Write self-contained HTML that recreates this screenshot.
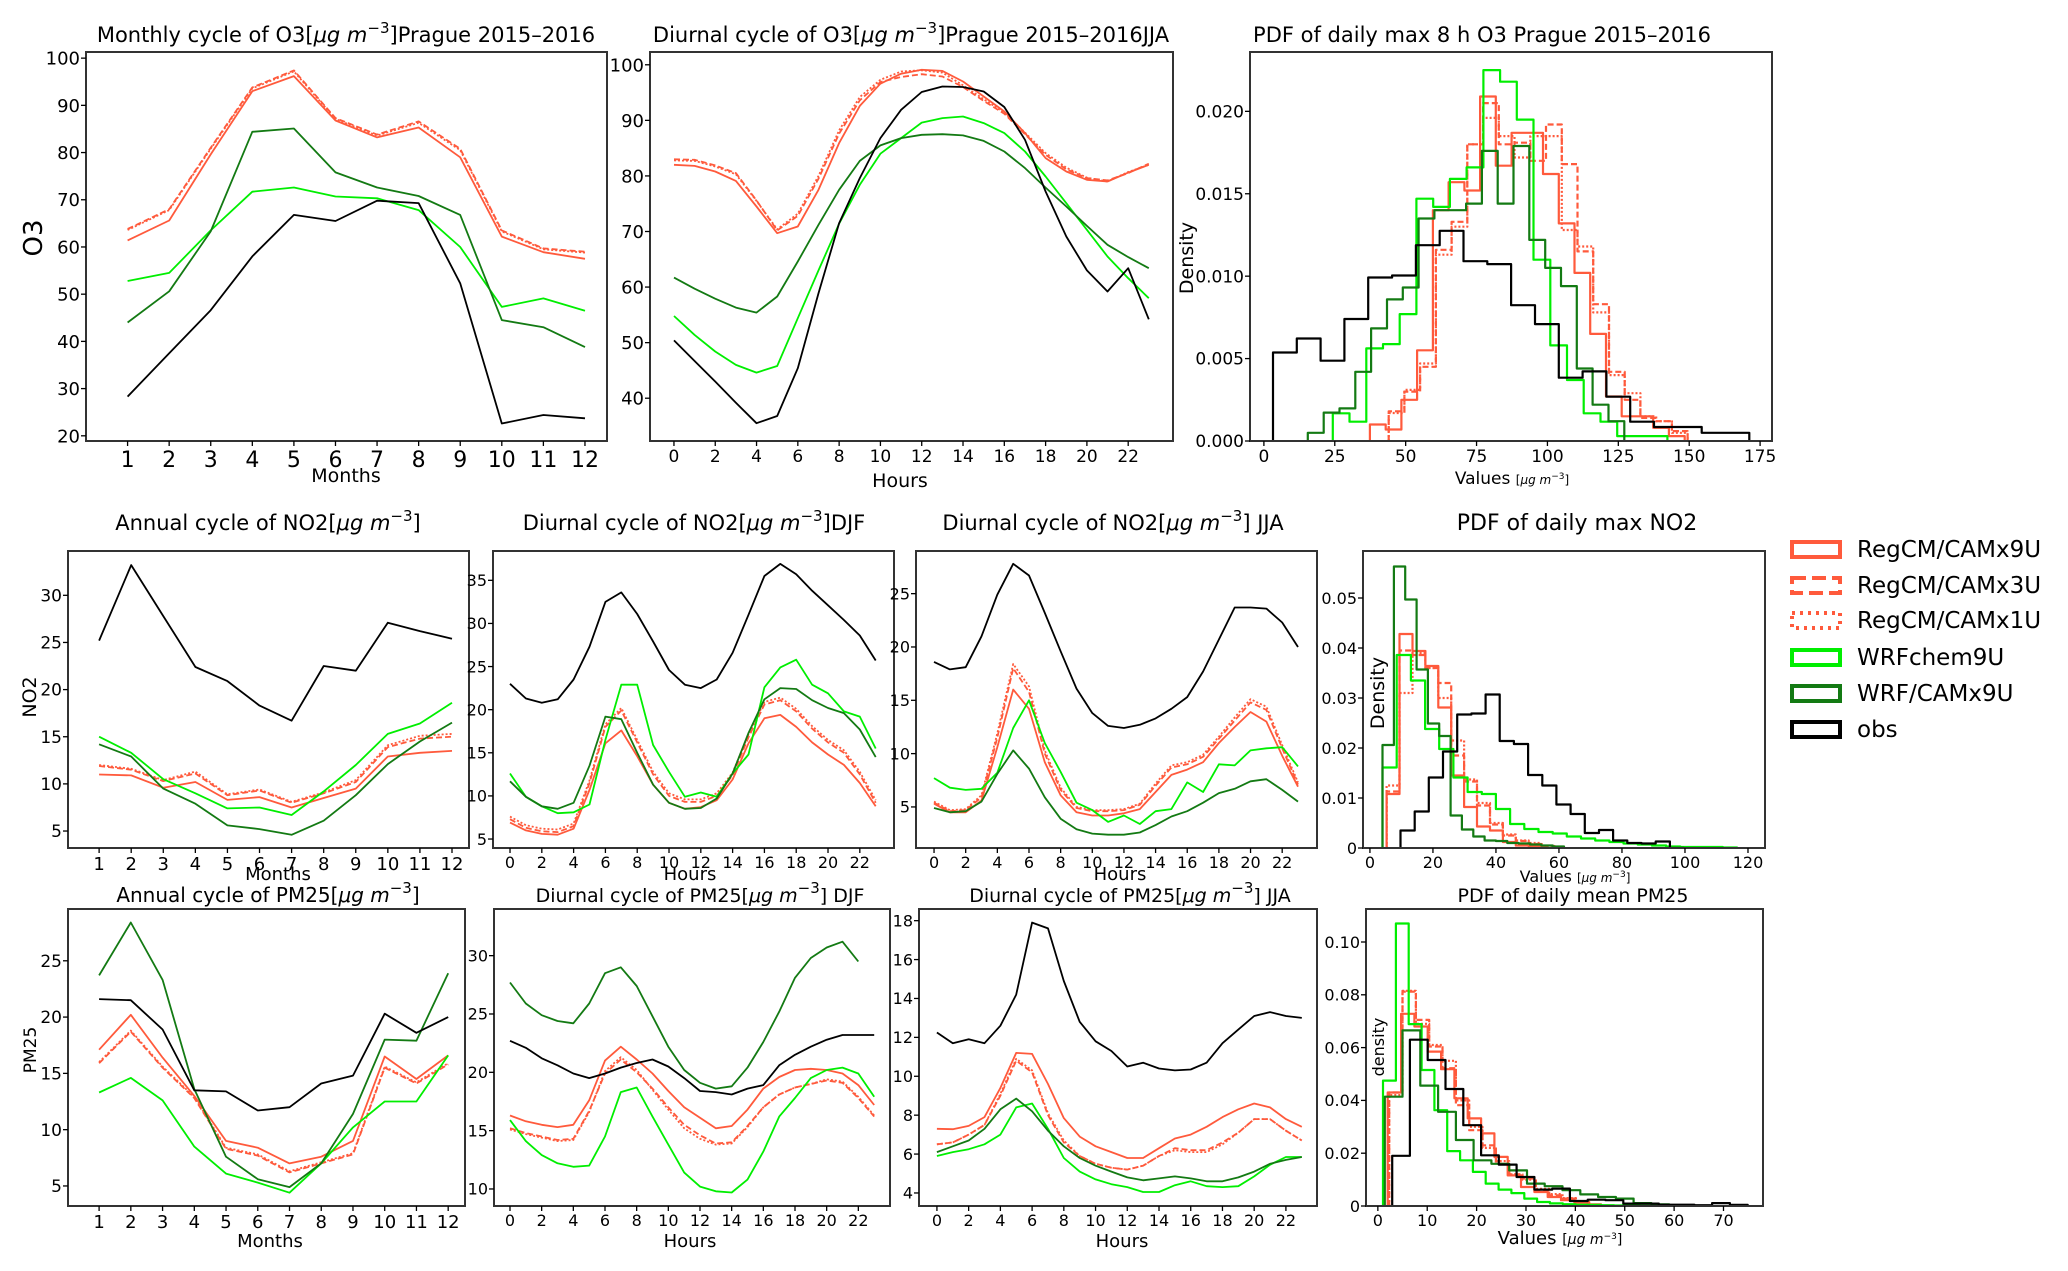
<!DOCTYPE html>
<html><head><meta charset="utf-8"><style>
html,body{margin:0;padding:0;background:#fff;}
svg{display:block;}
text{font-family:"DejaVu Sans","Liberation Sans",sans-serif;fill:#000;}
</style></head><body>
<svg id="fig" xmlns="http://www.w3.org/2000/svg" width="2068" height="1271" viewBox="0 0 2068 1271">
<rect x="0" y="0" width="2068" height="1271" fill="#fff"/>
<g id="legend">
 <g><rect x="1792" y="542" width="48" height="15" fill="none" stroke="#ff5a3c" stroke-width="4"/><text x="1857" y="557" font-size="23">RegCM/CAMx9U</text></g>
 <g><rect x="1792" y="578" width="48" height="15" fill="none" stroke="#ff5a3c" stroke-width="4" stroke-dasharray="14,6"/><text x="1857" y="593" font-size="23">RegCM/CAMx3U</text></g>
 <g><rect x="1792" y="613" width="48" height="15" fill="none" stroke="#ff5a3c" stroke-width="4" stroke-dasharray="3,5"/><text x="1857" y="628" font-size="23">RegCM/CAMx1U</text></g>
 <g><rect x="1792" y="650" width="48" height="15" fill="none" stroke="#00ee00" stroke-width="4"/><text x="1857" y="665" font-size="23">WRFchem9U</text></g>
 <g><rect x="1792" y="686" width="48" height="15" fill="none" stroke="#137a13" stroke-width="4"/><text x="1857" y="701" font-size="23">WRF/CAMx9U</text></g>
 <g><rect x="1792" y="722" width="48" height="15" fill="none" stroke="#000" stroke-width="4"/><text x="1857" y="737" font-size="23">obs</text></g>
</g>
</svg>
<script>
// ===== Data =====
const months = [1,2,3,4,5,6,7,8,9,10,11,12];
const hours = [0,1,2,3,4,5,6,7,8,9,10,11,12,13,14,15,16,17,18,19,20,21,22,23];

// O3 monthly
const o3m_obs = [28.3,37.5,46.6,58.0,66.8,65.5,69.8,69.3,52.3,22.6,24.4,23.7];
const o3m_wrfchem = [52.8,54.5,63.5,71.7,72.6,70.7,70.3,67.8,60.0,47.3,49.1,46.5];
const o3m_wrfcamx = [44.0,50.6,63.3,84.4,85.1,75.8,72.6,70.8,66.8,44.5,43.0,38.8];
const o3m_reg9 = [61.4,65.6,79.6,93.0,96.2,86.8,83.2,85.3,79.0,62.2,58.9,57.5];
const o3m_reg3 = [63.8,68.0,81.0,93.8,97.4,87.3,83.8,86.6,80.8,63.5,59.7,59.0];
const o3m_reg1 = [63.6,67.8,80.8,93.6,97.2,87.1,83.6,86.3,80.5,63.3,59.5,58.8];

// O3 diurnal JJA
const o3d_obs = [50.4,46.7,43.0,39.2,35.5,36.8,45.4,58.9,71.5,79.6,86.8,91.9,95.1,96.1,96.0,95.2,92.4,86.5,77.2,69.1,63.0,59.2,63.4,54.2];
const o3d_wrfchem = [54.8,51.4,48.4,46.0,44.6,45.8,54.4,63.0,71.4,78.4,84.0,86.8,89.6,90.4,90.7,89.5,87.7,84.4,79.9,75.1,70.3,65.5,61.6,58.0];
const o3d_wrfcamx = [61.7,59.7,57.9,56.3,55.4,58.3,64.6,71.2,77.5,82.7,85.5,86.8,87.4,87.5,87.3,86.3,84.4,81.4,77.9,74.5,71.0,67.6,65.4,63.4];
const o3d_reg9 = [82.0,81.8,80.8,79.1,74.5,69.7,70.9,77.5,85.9,92.6,96.6,98.4,99.1,98.9,97.0,94.3,91.6,87.7,83.2,80.8,79.3,79.0,80.6,82.0];
const o3d_reg3 = [83.0,82.9,81.9,80.5,75.6,70.2,72.8,79.5,87.6,93.6,96.9,97.8,98.3,97.9,96.0,93.5,91.2,87.5,83.8,81.2,79.6,79.2,80.5,82.2];
const o3d_reg1 = [82.8,82.7,81.7,80.3,75.5,70.4,73.2,80.0,88.2,94.2,97.3,98.8,99.0,98.6,96.3,93.8,91.4,87.8,84.1,81.5,79.7,79.0,80.7,82.0];

// O3 PDF (bin start, bin width, densities)
const pdfo3_obs_start = 3.2, pdfo3_obs_width = 8.4;
const pdfo3_obs = [0.00537,0.00622,0.00487,0.0074,0.00992,0.01004,0.01188,0.01275,0.01091,0.01073,0.00824,0.00709,0.00384,0.00422,0.00269,0.00117,0.00085,0.00085,0.0005,0.0005];
const pdfo3_wrfcamx_start = 15.5, pdfo3_wrfcamx_width = 5.58;
const pdfo3_wrfcamx = [0.0005,0.00172,0.00198,0.0042,0.00683,0.00859,0.00931,0.0135,0.0140,0.0140,0.0144,0.0176,0.0144,0.0179,0.0122,0.0105,0.0094,0.0044,0.0022,0.0012];
const pdfo3_wrfchem_start = 24.3, pdfo3_wrfchem_width = 5.9;
const pdfo3_wrfchem = [0.00168,0.00117,0.00562,0.00588,0.0077,0.0147,0.0142,0.0159,0.0166,0.0225,0.0218,0.0195,0.0110,0.0058,0.0037,0.00168,0.00117,0.0003,0.0003,0.0003];
const pdfo3_reg9_start = 37.4, pdfo3_reg9_width = 5.55;
const pdfo3_reg9 = [0.001,0.0007,0.0025,0.0055,0.0140,0.0157,0.0152,0.0209,0.0167,0.0187,0.0187,0.0162,0.0132,0.0102,0.0065,0.0027,0.0015,0.0015,0.0008,0.0003];
const pdfo3_reg3_start = 44.0, pdfo3_reg3_width = 5.55;
const pdfo3_reg3 = [0.0018,0.003,0.0045,0.0116,0.0133,0.018,0.0205,0.018,0.0181,0.017,0.0192,0.0168,0.0115,0.0083,0.0042,0.0025,0.0014,0.0012,0.0006];
const pdfo3_reg1_start = 44.0, pdfo3_reg1_width = 5.55;
const pdfo3_reg1 = [0.0017,0.0031,0.0047,0.0113,0.013,0.018,0.0196,0.0185,0.0172,0.0185,0.0185,0.0128,0.0118,0.0078,0.0040,0.0029,0.0015,0.0012,0.0005];

// NO2 annual
const no2m_obs = [25.2,33.2,27.8,22.4,20.9,18.3,16.7,22.5,22.0,27.1,26.2,25.4];
const no2m_wrfchem = [15.0,13.3,10.5,9.0,7.4,7.5,6.7,9.2,12.0,15.3,16.4,18.6];
const no2m_wrfcamx = [14.2,12.9,9.5,7.9,5.6,5.2,4.6,6.1,8.8,12.1,14.5,16.5];
const no2m_reg9 = [11.0,10.9,9.6,10.2,8.3,8.6,7.5,8.5,9.5,12.9,13.3,13.5];
const no2m_reg3 = [11.9,11.5,10.3,11.1,8.8,9.3,8.0,9.0,10.2,13.9,14.8,15.0];
const no2m_reg1 = [12.0,11.6,10.4,11.3,8.9,9.4,8.1,9.1,10.4,14.1,15.1,15.3];

// NO2 diurnal DJF
const no2w_obs = [23.0,21.3,20.8,21.2,23.5,27.3,32.5,33.6,31.1,27.9,24.6,22.9,22.5,23.5,26.6,31.0,35.5,36.9,35.7,33.8,32.1,30.4,28.6,25.7];
const no2w_wrfchem = [12.6,9.9,8.8,8.0,8.1,9.0,16.5,22.9,22.9,15.9,12.8,9.9,10.4,9.9,12.6,14.8,22.6,24.9,25.8,22.9,21.9,19.8,19.2,15.5];
const no2w_wrfcamx = [11.7,9.9,8.8,8.5,9.2,13.5,19.2,18.9,15.0,11.3,9.2,8.5,8.6,9.7,12.6,17.3,21.2,22.5,22.4,21.1,20.2,19.6,17.7,14.5];
const no2w_reg9 = [6.9,6.0,5.6,5.5,6.2,10.7,16.1,17.6,14.6,11.3,9.2,8.5,8.7,9.5,11.9,16.1,19.0,19.4,18.0,16.2,14.8,13.6,11.5,8.8];
const no2w_reg3 = [7.3,6.3,5.9,5.8,6.5,11.5,18.0,19.9,16.2,12.5,10.0,9.3,9.3,10.0,12.4,16.8,20.6,21.1,19.8,17.8,16.2,15.0,12.5,9.2];
const no2w_reg1 = [7.6,6.6,6.2,6.1,6.8,11.8,18.3,20.2,16.5,12.8,10.3,9.6,9.6,10.3,12.7,17.1,20.9,21.4,20.1,18.1,16.5,15.3,12.8,9.5];

// NO2 diurnal JJA
const no2s_obs = [18.6,17.9,18.1,21.0,24.9,27.8,26.7,23.2,19.6,16.1,13.8,12.6,12.4,12.7,13.3,14.2,15.3,17.7,20.7,23.7,23.7,23.6,22.3,20.0];
const no2s_wrfchem = [7.7,6.8,6.6,6.7,8.2,12.4,15.0,11.0,8.3,5.4,4.7,3.6,4.2,3.4,4.6,4.8,7.3,6.4,9.0,8.9,10.3,10.5,10.6,8.8];
const no2s_wrfcamx = [4.9,4.5,4.6,5.5,8.1,10.3,8.6,5.9,3.9,2.9,2.5,2.4,2.4,2.6,3.3,4.1,4.6,5.4,6.3,6.7,7.4,7.6,6.6,5.5];
const no2s_reg9 = [5.3,4.5,4.5,5.6,10.6,16.0,14.2,9.2,6.1,4.5,4.2,4.2,4.4,4.8,6.4,8.0,8.5,9.2,11.0,12.5,13.9,13.0,9.8,6.9];
const no2s_reg3 = [5.4,4.6,4.7,5.9,11.5,18.0,15.8,10.0,6.6,4.9,4.6,4.6,4.7,5.2,7.0,8.7,9.0,9.7,11.4,13.1,14.8,14.1,10.5,7.1];
const no2s_reg1 = [5.5,4.7,4.8,6.1,11.9,18.4,16.3,10.3,6.8,5.0,4.7,4.7,4.8,5.3,7.2,8.9,9.2,9.9,11.6,13.4,15.1,14.4,10.8,7.3];

// NO2 PDF
const pdfno2_obs_start = 9.7, pdfno2_obs_width = 4.5;
const pdfno2_obs = [0.0035,0.0073,0.0141,0.0193,0.0267,0.0269,0.0307,0.0214,0.0208,0.0146,0.0125,0.0087,0.0068,0.003,0.0036,0.0015,0.001,0.0009,0.0013,0.0];
const pdfno2_wrfcamx_start = 4.0, pdfno2_wrfcamx_width = 3.6;
const pdfno2_wrfcamx = [0.0206,0.0563,0.0497,0.0357,0.0249,0.0224,0.0065,0.0037,0.0023,0.0015,0.0014,0.001,0.0009,0.0007,0.0005,0.0003];
const pdfno2_wrfchem_start = 4.0, pdfno2_wrfchem_width = 4.5;
const pdfno2_wrfchem = [0.0161,0.0386,0.0335,0.0238,0.0198,0.0141,0.0112,0.0108,0.0078,0.0048,0.0038,0.0032,0.0029,0.0023,0.0019,0.0015,0.0012,0.0009,0.0007,0.0005,0.0003,0.0002,0.0002,0.0002,0.0001];
const pdfno2_reg9_start = 5.3, pdfno2_reg9_width = 4.1;
const pdfno2_reg9 = [0.0108,0.0428,0.0394,0.0364,0.0281,0.0145,0.0082,0.0043,0.0035,0.0012,0.0005,0.0003];
const pdfno2_reg3_start = 5.3, pdfno2_reg3_width = 4.1;
const pdfno2_reg3 = [0.0113,0.0395,0.0386,0.0360,0.0330,0.0185,0.0133,0.0085,0.0047,0.0025,0.0014,0.0008,0.0004];
const pdfno2_reg1_start = 5.3, pdfno2_reg1_width = 4.1;
const pdfno2_reg1 = [0.0125,0.031,0.039,0.036,0.030,0.0215,0.0137,0.009,0.005,0.0027,0.0015,0.001,0.0004];

// PM25 annual
const pmm_obs = [21.6,21.5,18.9,13.5,13.4,11.7,12.0,14.1,14.8,20.3,18.6,20.0];
const pmm_wrfcamx = [23.7,28.4,23.3,13.6,7.6,5.6,4.9,7.0,11.4,18.0,17.9,23.9];
const pmm_wrfchem = [13.3,14.6,12.6,8.5,6.1,5.3,4.4,7.0,10.2,12.5,12.5,16.6];
const pmm_reg9 = [17.1,20.2,16.4,13.0,9.0,8.4,7.0,7.6,9.0,16.5,14.5,16.6];
const pmm_reg3 = [15.9,18.7,15.5,12.8,8.3,7.7,6.2,7.0,7.8,15.5,14.1,15.8];
const pmm_reg1 = [16.0,18.8,15.6,12.9,8.4,7.8,6.3,7.1,7.9,15.6,14.2,15.9];

// PM25 diurnal DJF
const pmw_obs = [22.7,22.1,21.2,20.6,19.9,19.5,19.9,20.4,20.8,21.1,20.5,19.5,18.4,18.3,18.1,18.6,18.9,20.6,21.5,22.2,22.8,23.2,23.2,23.2];
const pmw_wrfcamx = [27.7,25.9,24.9,24.4,24.2,25.9,28.5,29.0,27.4,24.8,22.2,20.2,19.1,18.6,18.8,20.4,22.6,25.2,28.1,29.8,30.7,31.2,29.5];
const pmw_wrfchem = [15.9,14.1,12.9,12.2,11.9,12.0,14.5,18.3,18.7,16.2,13.8,11.4,10.2,9.8,9.7,10.8,13.2,16.2,17.8,19.5,20.2,20.4,19.9,17.9];
const pmw_reg9 = [16.3,15.8,15.5,15.3,15.5,17.6,21.0,22.2,21.1,19.9,18.4,17.0,16.1,15.2,15.4,16.8,18.6,19.6,20.2,20.3,20.2,19.9,18.9,17.2];
const pmw_reg3 = [15.2,14.8,14.5,14.2,14.3,16.7,19.9,21.1,20.0,18.6,17.0,15.5,14.6,13.9,14.0,15.4,17.0,18.1,18.7,19.0,19.3,19.1,17.8,16.2];
const pmw_reg1 = [15.1,14.7,14.4,14.1,14.2,16.6,20.1,21.3,20.2,18.5,16.8,15.2,14.3,13.8,13.9,15.3,17.0,18.1,18.7,19.0,19.4,19.2,17.9,16.3];

// PM25 diurnal JJA
const pms_obs = [12.25,11.7,11.9,11.7,12.6,14.2,17.9,17.6,14.9,12.8,11.8,11.3,10.5,10.7,10.4,10.3,10.35,10.7,11.7,12.4,13.1,13.3,13.1,13.0];
const pms_reg9 = [7.3,7.28,7.45,7.9,9.4,11.2,11.15,9.6,7.85,6.9,6.4,6.1,5.8,5.8,6.3,6.8,7.0,7.4,7.9,8.3,8.6,8.4,7.8,7.4];
const pms_reg3 = [6.5,6.6,7.0,7.5,9.0,10.8,10.2,8.0,6.6,5.9,5.5,5.3,5.2,5.4,5.9,6.3,6.2,6.2,6.6,7.1,7.8,7.8,7.2,6.7];
const pms_reg1 = [6.5,6.6,7.0,7.5,9.1,10.9,10.3,8.1,6.7,5.9,5.5,5.3,5.2,5.4,5.9,6.2,6.1,6.1,6.5,7.1,7.8,7.8,7.2,6.7];
const pms_wrfcamx = [6.1,6.4,6.7,7.3,8.3,8.85,8.2,7.2,6.4,5.8,5.4,5.1,4.8,4.65,4.75,4.85,4.75,4.6,4.6,4.8,5.1,5.5,5.7,5.85];
const pms_wrfchem = [5.9,6.1,6.25,6.5,7.0,8.4,8.6,7.3,5.8,5.1,4.7,4.45,4.3,4.05,4.05,4.4,4.6,4.35,4.3,4.35,4.85,5.45,5.85,5.85];

// PM25 PDF
const pdfpm_obs_start = 2.9, pdfpm_obs_width = 3.6;
const pdfpm_obs = [0.019,0.063,0.0553,0.0443,0.0306,0.0192,0.0157,0.011,0.0062,0.0066,0.0019,0.0024,0.0022,0.0009,0.0009,0.0005,0.0005,0.0003,0.0011,0.0004];
const pdfpm_wrfcamx_start = 1.4, pdfpm_wrfcamx_width = 3.6;
const pdfpm_wrfcamx = [0.0414,0.0665,0.0456,0.0357,0.025,0.0173,0.016,0.0135,0.0085,0.0075,0.006,0.0044,0.0034,0.0028,0.0011,0.0006];
const pdfpm_wrfchem_start = 1.05, pdfpm_wrfchem_width = 2.6;
const pdfpm_wrfchem = [0.0475,0.107,0.0689,0.0515,0.0363,0.0208,0.0173,0.0129,0.0085,0.0062,0.0049,0.0028,0.0015,0.001,0.0007,0.0005,0.0004,0.0003,0.0002,0.0002,0.0001];
const pdfpm_reg9_start = 2.0, pdfpm_reg9_width = 2.7;
const pdfpm_reg9 = [0.043,0.0728,0.068,0.0585,0.0518,0.0408,0.0332,0.0275,0.0186,0.0116,0.0072,0.0053,0.0034,0.0022,0.0013,0.0006];
const pdfpm_reg3_start = 2.3, pdfpm_reg3_width = 2.7;
const pdfpm_reg3 = [0.043,0.0812,0.0705,0.0604,0.0522,0.0382,0.0287,0.023,0.016,0.012,0.0104,0.006,0.004,0.0028,0.0015];
const pdfpm_reg1_start = 2.3, pdfpm_reg1_width = 2.7;
const pdfpm_reg1 = [0.042,0.0815,0.069,0.061,0.055,0.040,0.030,0.022,0.017,0.012,0.010,0.0065,0.0045,0.003,0.0015];

// tick label arrays
const ticks_o3m_y = [20,30,40,50,60,70,80,90,100];
const ticks_o3d_y = [40,50,60,70,80,90,100];
const ticks_hours = [0,2,4,6,8,10,12,14,16,18,20,22];
const ticks_pdfo3_x = [0,25,50,75,100,125,150,175];
const ticks_pdfo3_y = [0,0.005,0.010,0.015,0.020];
const ticks_no2m_y = [5,10,15,20,25,30];
const ticks_no2w_y = [5,10,15,20,25,30,35];
const ticks_no2s_y = [5,10,15,20,25];
const ticks_pdfno2_x = [0,20,40,60,80,100,120];
const ticks_pdfno2_y = [0,0.01,0.02,0.03,0.04,0.05];
const ticks_pmm_y = [5,10,15,20,25];
const ticks_pmw_y = [10,15,20,25,30];
const ticks_pms_y = [4,6,8,10,12,14,16,18];
const ticks_pdfpm_x = [0,10,20,30,40,50,60,70];
const ticks_pdfpm_y = [0,0.02,0.04,0.06,0.08,0.10];

// ===== Rendering =====
const NS = 'http://www.w3.org/2000/svg';
const svg = document.getElementById('fig');
const RED = '#ff5a3c', LIME = '#00ee00', DG = '#137a13', BLK = '#000';
function mk(tag, attrs, parent){const e=document.createElementNS(NS,tag);for(const k in attrs)e.setAttribute(k,attrs[k]);(parent||svg).appendChild(e);return e;}

function panel(p){
  const g = mk('g',{});
  
  
  const [l,t,r,b]=p.box;
  const sx = v => l+(v-p.xd[0])/(p.xd[1]-p.xd[0])*(r-l);
  const sy = v => b-(v-p.yd[0])/(p.yd[1]-p.yd[0])*(b-t);
  // title
  const tt = mk('text',{x:p.tx,y:p.ty,'font-size':p.tfs||21,'text-anchor':'middle'},g);
  tt.innerHTML = p.title;
  
  
  // series
  const sg = mk('g',{'clip-path':'url(#clip-'+p.name+')'},g);
  const cp = mk('clipPath',{id:'clip-'+p.name},g);
  mk('rect',{x:l,y:t,width:r-l,height:b-t},cp);
  p.series.forEach(s=>{
    let d='';
    if(s.hist){
      let x=s.start;
      d='M'+sx(x).toFixed(1)+','+sy(0).toFixed(1);
      s.vals.forEach(v=>{d+=' V'+sy(v).toFixed(1);x+=s.width;d+=' H'+sx(x).toFixed(1);});
      d+=' V'+sy(0).toFixed(1);
    } else {
      s.vals.forEach((v,i)=>{d+=(i?' L':'M')+sx(s.xs[i]).toFixed(1)+','+sy(v).toFixed(1);});
    }
    const pa = mk('path',{d:d,fill:'none',stroke:s.c,'stroke-width':s.hist?2.2:1.8,'stroke-linejoin':'round'},sg);
    if(s.dash) pa.setAttribute('stroke-dasharray',s.dash);
    
    
  });
  // frame
  const fr = mk('rect',{x:l,y:t,width:r-l,height:b-t,fill:'none',stroke:'#333',"stroke-width":2},g);
  
  
  // x ticks
  const xg = mk('g',{},g);
  
  
  p.xt.forEach(v=>{
    const x=sx(v);
    mk('line',{x1:x,x2:x,y1:b,y2:b+5,stroke:'#000','stroke-width':1.3},xg);
    const tx=mk('text',{x:x,y:b+5+p.xfs*0.95,'font-size':p.xfs,'text-anchor':'middle'},xg);
    tx.textContent = p.xfmt? p.xfmt(v): String(v);
  });
  // y ticks
  const yg = mk('g',{},g);
  
  
  p.yt.forEach(v=>{
    const y=sy(v);
    mk('line',{x1:l-5,x2:l,y1:y,y2:y,stroke:'#000','stroke-width':1.3},yg);
    const tx=mk('text',{x:l-6,y:y+p.yfs*0.36,'font-size':p.yfs,'text-anchor':'end'},yg);
    tx.textContent = p.yfmt? p.yfmt(v): String(v);
  });
  if(p.xl){
    const xl=mk('text',{x:p.xl[1],y:p.xl[2],'font-size':p.xl[3],'text-anchor':'middle'},g);
    xl.innerHTML=p.xl[0];
    
    
  }
  if(p.yl){
    const yl=mk('text',{x:p.yl[1],y:p.yl[2],'font-size':p.yl[3],'text-anchor':'middle',transform:'rotate(-90 '+p.yl[1]+' '+p.yl[2]+')'},g);
    yl.textContent=p.yl[0];
    
    
  }
}
function lines(xs, obs, chem, camx, r9, r3, r1){
  const arr=[];
  if(r9) arr.push({n:'regcm9u',xs:xs,vals:r9,c:RED});
  if(r3) arr.push({n:'regcm3u',xs:xs,vals:r3,c:RED,dash:'6,3'});
  if(r1) arr.push({n:'regcm1u',xs:xs,vals:r1,c:RED,dash:'2,2'});
  arr.push({n:'wrfchem9u',xs:xs,vals:chem,c:LIME});
  arr.push({n:'wrfcamx9u',xs:xs,vals:camx,c:DG});
  arr.push({n:'obs',xs:xs,vals:obs,c:BLK});
  return arr;
}
const U = '[<tspan font-style="italic">μg m</tspan><tspan dy="-9" font-size="15">−3</tspan><tspan dy="9">]</tspan>';
const Us = '<tspan font-size="12">[<tspan font-style="italic">μg m</tspan><tspan dy="-5" font-size="9">−3</tspan><tspan dy="5">]</tspan></tspan>';
const f3 = v=>v.toFixed(3), f2 = v=>v===0?'0':v.toFixed(2);

panel({name:'o3-monthly',box:[86,52,607,441],xd:[0,12.53],yd:[18.9,101.3],title:'Monthly cycle of O3'+U+'Prague 2015–2016',tx:346,ty:42,
  xt:months,yt:ticks_o3m_y,xfs:22,yfs:18,xl:['Months',346,482,19],yl:['O3',42,238,26],
  series:lines(months,o3m_obs,o3m_wrfchem,o3m_wrfcamx,o3m_reg9,o3m_reg3,o3m_reg1)});
panel({name:'o3-diurnal-jja',box:[650,52,1173,441],xd:[-1.16,24.17],yd:[32.3,102.3],title:'Diurnal cycle of O3'+U+'Prague 2015–2016JJA',tx:911,ty:42,
  xt:ticks_hours,yt:ticks_o3d_y,xfs:17,yfs:18,xl:['Hours',900,487,19],
  series:lines(hours,o3d_obs,o3d_wrfchem,o3d_wrfcamx,o3d_reg9,o3d_reg3,o3d_reg1)});
panel({name:'o3-pdf',box:[1250,52,1772,441],xd:[-4.9,179.2],yd:[0,0.0236],title:'PDF of daily max 8 h  O3 Prague 2015–2016',tx:1482,ty:42,
  xt:ticks_pdfo3_x,yt:ticks_pdfo3_y,yfmt:f3,xfs:17,yfs:17,xl:['Values '+Us,1512,484,17],yl:['Density',1193,258,19],
  series:[
   {n:'regcm9u',hist:1,start:pdfo3_reg9_start,width:pdfo3_reg9_width,vals:pdfo3_reg9,c:RED},
   {n:'regcm3u',hist:1,start:pdfo3_reg3_start,width:pdfo3_reg3_width,vals:pdfo3_reg3,c:RED,dash:'6,3'},
   {n:'regcm1u',hist:1,start:pdfo3_reg1_start,width:pdfo3_reg1_width,vals:pdfo3_reg1,c:RED,dash:'2,2'},
   {n:'wrfchem9u',hist:1,start:pdfo3_wrfchem_start,width:pdfo3_wrfchem_width,vals:pdfo3_wrfchem,c:LIME},
   {n:'wrfcamx9u',hist:1,start:pdfo3_wrfcamx_start,width:pdfo3_wrfcamx_width,vals:pdfo3_wrfcamx,c:DG},
   {n:'obs',hist:1,start:pdfo3_obs_start,width:pdfo3_obs_width,vals:pdfo3_obs,c:BLK}]});

panel({name:'no2-annual',box:[68,551,469,848],xd:[0.03,12.53],yd:[3.2,34.7],title:'Annual cycle of NO2'+U,tx:268,ty:530,tfs:21,
  xt:months,yt:ticks_no2m_y,xfs:18,yfs:17,xl:['Months',278,880,18],yl:['NO2',36,697,19],
  series:lines(months,no2m_obs,no2m_wrfchem,no2m_wrfcamx,no2m_reg9,no2m_reg3,no2m_reg1)});
panel({name:'no2-diurnal-djf',box:[493,551,894,848],xd:[-1.07,24.15],yd:[3.96,38.4],title:'Diurnal cycle of NO2'+U+'DJF',tx:694,ty:530,tfs:21,
  xt:ticks_hours,yt:ticks_no2w_y,xfs:16,yfs:16,xl:['Hours',690,880,18],
  series:lines(hours,no2w_obs,no2w_wrfchem,no2w_wrfcamx,no2w_reg9,no2w_reg3,no2w_reg1)});
panel({name:'no2-diurnal-jja',box:[916,551,1317,848],xd:[-1.14,24.2],yd:[1.15,29.0],title:'Diurnal cycle of NO2'+U+'  JJA',tx:1113,ty:530,tfs:21,
  xt:ticks_hours,yt:ticks_no2s_y,xfs:16,yfs:16,xl:['Hours',1120,880,18],
  series:lines(hours,no2s_obs,no2s_wrfchem,no2s_wrfcamx,no2s_reg9,no2s_reg3,no2s_reg1)});
panel({name:'no2-pdf',box:[1363,551,1765,848],xd:[-2.2,125.4],yd:[0,0.0594],title:'PDF of daily max NO2',tx:1577,ty:530,tfs:22,
  xt:ticks_pdfno2_x,yt:ticks_pdfno2_y,yfmt:f2,xfs:16,yfs:16,xl:['Values '+Us,1575,882,16],yl:['Density',1384,693,19],
  series:[
   {n:'regcm9u',hist:1,start:pdfno2_reg9_start,width:pdfno2_reg9_width,vals:pdfno2_reg9,c:RED},
   {n:'regcm3u',hist:1,start:pdfno2_reg3_start,width:pdfno2_reg3_width,vals:pdfno2_reg3,c:RED,dash:'6,3'},
   {n:'regcm1u',hist:1,start:pdfno2_reg1_start,width:pdfno2_reg1_width,vals:pdfno2_reg1,c:RED,dash:'2,2'},
   {n:'wrfchem9u',hist:1,start:pdfno2_wrfchem_start,width:pdfno2_wrfchem_width,vals:pdfno2_wrfchem,c:LIME},
   {n:'wrfcamx9u',hist:1,start:pdfno2_wrfcamx_start,width:pdfno2_wrfcamx_width,vals:pdfno2_wrfcamx,c:DG},
   {n:'obs',hist:1,start:pdfno2_obs_start,width:pdfno2_obs_width,vals:pdfno2_obs,c:BLK}]});

panel({name:'pm25-annual',box:[68,909,465,1206],xd:[0.02,12.53],yd:[3.22,29.6],title:'Annual cycle of PM25'+U,tx:268,ty:902,tfs:20,
  xt:months,yt:ticks_pmm_y,xfs:18,yfs:17,xl:['Months',270,1247,18],yl:['PM25',36,1050,17],
  series:lines(months,pmm_obs,pmm_wrfchem,pmm_wrfcamx,pmm_reg9,pmm_reg3,pmm_reg1)});
panel({name:'pm25-diurnal-djf',box:[494,909,890,1206],xd:[-1.01,24.0],yd:[8.54,34.0],title:'Diurnal cycle of PM25'+U+' DJF',tx:700,ty:902,tfs:19,
  xt:ticks_hours,yt:ticks_pmw_y,xfs:16,yfs:16,xl:['Hours',690,1247,18],
  series:lines(hours,pmw_obs,pmw_wrfchem,pmw_wrfcamx,pmw_reg9,pmw_reg3,pmw_reg1)});
panel({name:'pm25-diurnal-jja',box:[919,909,1317,1206],xd:[-1.13,23.96],yd:[3.33,18.6],title:'Diurnal cycle of PM25'+U+' JJA',tx:1130,ty:902,tfs:19,
  xt:ticks_hours,yt:ticks_pms_y,xfs:16,yfs:16,xl:['Hours',1122,1247,18],
  series:lines(hours,pms_obs,pms_wrfchem,pms_wrfcamx,pms_reg9,pms_reg3,pms_reg1)});
panel({name:'pm25-pdf',box:[1366,909,1763,1206],xd:[-2.4,78.0],yd:[0,0.1125],title:'PDF of daily mean PM25',tx:1573,ty:902,tfs:19,
  xt:ticks_pdfpm_x,yt:ticks_pdfpm_y,yfmt:f2,xfs:16,yfs:16,xl:['Values '+Us.replace('font-size="12"','font-size="14"'),1560,1244,18],yl:['density',1384,1047,16],
  series:[
   {n:'regcm9u',hist:1,start:pdfpm_reg9_start,width:pdfpm_reg9_width,vals:pdfpm_reg9,c:RED},
   {n:'regcm3u',hist:1,start:pdfpm_reg3_start,width:pdfpm_reg3_width,vals:pdfpm_reg3,c:RED,dash:'6,3'},
   {n:'regcm1u',hist:1,start:pdfpm_reg1_start,width:pdfpm_reg1_width,vals:pdfpm_reg1,c:RED,dash:'2,2'},
   {n:'wrfchem9u',hist:1,start:pdfpm_wrfchem_start,width:pdfpm_wrfchem_width,vals:pdfpm_wrfchem,c:LIME},
   {n:'wrfcamx9u',hist:1,start:pdfpm_wrfcamx_start,width:pdfpm_wrfcamx_width,vals:pdfpm_wrfcamx,c:DG},
   {n:'obs',hist:1,start:pdfpm_obs_start,width:pdfpm_obs_width,vals:pdfpm_obs,c:BLK}]});
</script>
</body></html>
